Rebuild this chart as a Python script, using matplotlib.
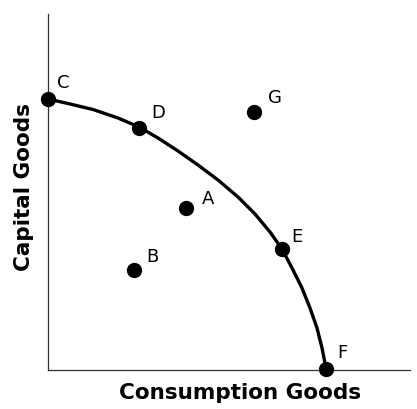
import matplotlib
matplotlib.use("Agg")
import matplotlib.pyplot as plt

# production possibilities curve (consumption, capital)
curve_x = [0, 20, 45, 70, 91, 110, 130, 150, 170, 190, 207, 222, 234, 244, 254, 262, 269, 274, 277, 278]
curve_y = [271, 266.5, 260.5, 252, 243, 232, 219, 205, 190, 173, 156, 138, 121, 102, 82, 62, 42, 22, 7, 1]

# labelled points
labels = ["C", "D", "G", "A", "E", "B", "F"]
pts_x = [0, 91, 206, 138, 234, 86, 278]
pts_y = [271, 242, 258, 162, 121, 100, 1]
label_dx = [15, 19, 21, 22, 15, 18, 16]
label_dy = [16, 15, 14, 9, 12, 13, 16]

fig = plt.figure(figsize=(4.17, 4.09), dpi=100)
ax = fig.add_axes([48 / 417, 39 / 409, 362 / 417, 356 / 409])

ax.plot(curve_x, curve_y, color="black", lw=2.4, solid_capstyle="round",
        solid_joinstyle="round", clip_on=False)
ax.plot(pts_x, pts_y, "o", color="black", ms=10, clip_on=False, zorder=3)

for lab, x, y, dx, dy in zip(labels, pts_x, pts_y, label_dx, label_dy):
    ax.annotate(lab, (x, y), xytext=(dx, dy), textcoords="offset pixels",
                ha="center", va="center", fontsize=13, color="black")

ax.set_xlim(0, 362)
ax.set_ylim(0, 356)
ax.set_xticks([])
ax.set_yticks([])
for side in ["top", "right"]:
    ax.spines[side].set_visible(False)
for side in ["left", "bottom"]:
    ax.spines[side].set_linewidth(0.9)
    ax.spines[side].set_color("#333333")

ax.set_xlabel("Consumption Goods", fontsize=15.5, fontweight="bold")
ax.set_ylabel("Capital Goods", fontsize=15.5, fontweight="bold")
ax.xaxis.set_label_coords((240 - 48) / 362, -(383 - 370) / 356)
ax.yaxis.set_label_coords(-(48 - 34) / 362, (370 - 187) / 356)

fig.savefig("out.png", dpi=100)
